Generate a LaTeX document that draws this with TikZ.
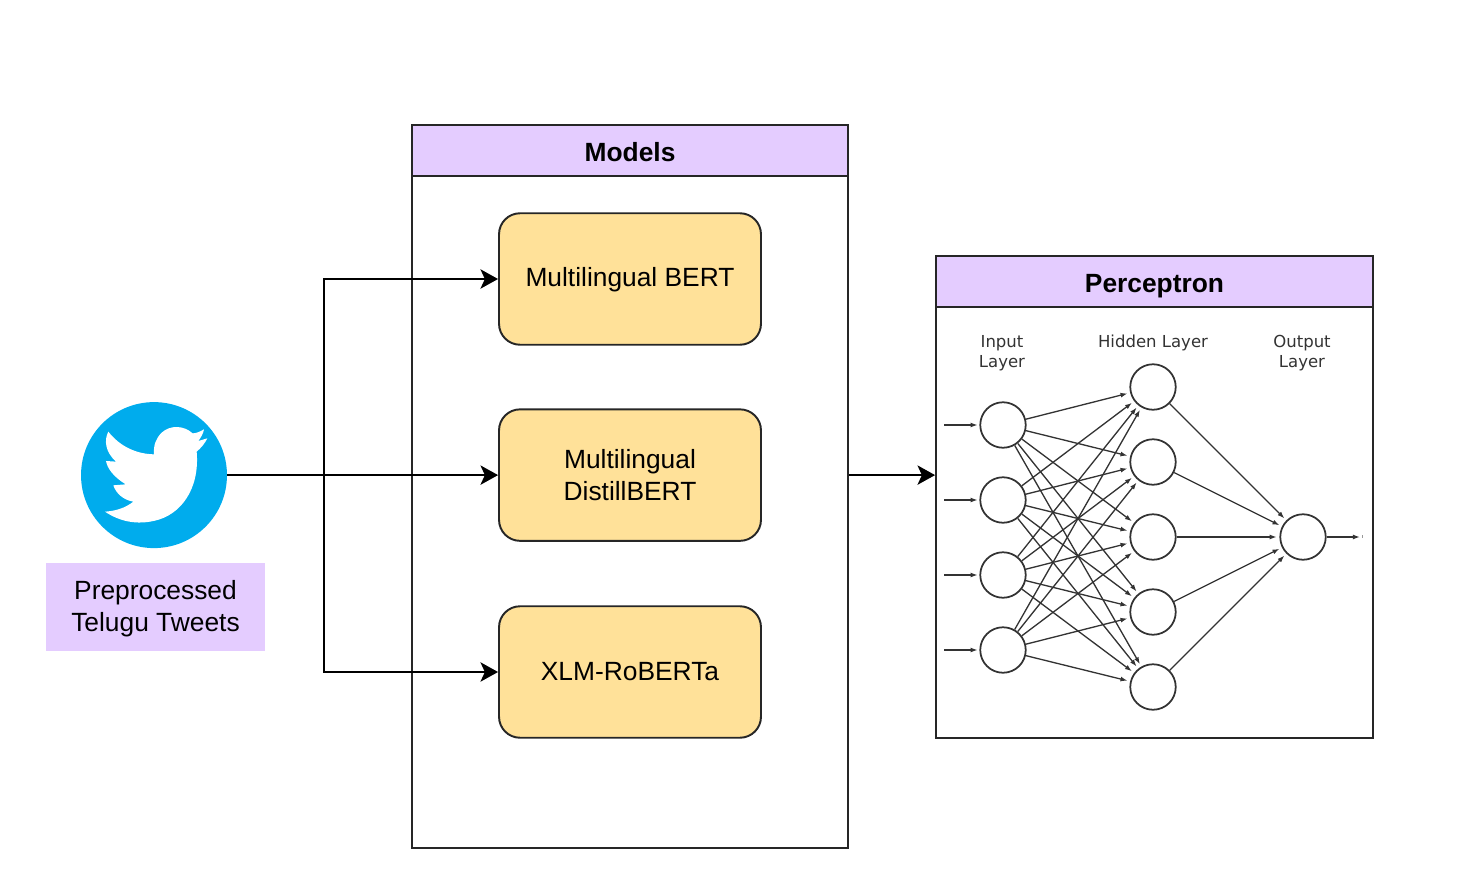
\documentclass[tikz,border=0pt]{standalone}
\usepackage{fontspec}
\setmainfont{Liberation Sans}
\newfontfamily\netfont{DejaVu Sans}
\usetikzlibrary{arrows.meta}
\definecolor{headpurple}{HTML}{E4CCFF}
\definecolor{modelyellow}{HTML}{FFE199}
\definecolor{twitterblue}{HTML}{00ACED}
\definecolor{netgray}{HTML}{333333}
\tikzset{
    flow/.style={line width=1.1pt,-{Stealth[length=10pt,width=11pt,inset=2.5pt]}},
    frame/.style={draw=black!85,line width=1.1pt,minimum width=8.74cm},
    header/.style={frame,fill=headpurple,minimum height=1.01cm,text height=14pt,text depth=1.6pt,font=\fontsize{15}{18}\selectfont\bfseries},
    modelbox/.style={draw=black!85,line width=1.1pt,fill=modelyellow,rounded corners=0.42cm,minimum width=5.24cm,minimum height=2.63cm,align=center,font=\fontsize{15}{18}\selectfont},
    neuron/.style={circle,draw=netgray,line width=1pt,fill=white,minimum size=0.91cm,inner sep=0pt},
    synapse/.style={draw=netgray,line width=0.75pt,shorten >=1.5pt,-{Latex[length=4pt,width=2.8pt]}},
    netlabel/.style={align=center,text=netgray,font=\fontsize{9.4}{11.6}\selectfont\netfont}
}
\begin{document}
\begin{tikzpicture}[x=0.02cm,y=-0.02cm]
        \useasboundingbox (0,0) rectangle (1471,892);
        %Twitter
        \node[circle,fill=twitterblue,minimum size=2.92cm,inner sep=0pt] (tweet) at (154,475.1) {};
        \begin{scope}[shift={(30,380)},x=0.00667cm,y=-0.00667cm]
        \fill[white] (522,148) .. controls (505,158) and (495,160) .. (488,160) .. controls (460,135) and (420,135) .. (395,158)
        .. controls (378,175) and (370,195) .. (372,223) .. controls (320,222) and (270,200) .. (235,155)
        .. controls (222,180) and (225,215) .. (258,245) -- (228,243) .. controls (232,265) and (250,290) .. (287,313)
        -- (250,316) .. controls (258,340) and (280,360) .. (310,365) .. controls (285,385) and (255,393) .. (225,395)
        .. controls (270,425) and (320,435) .. (375,422) .. controls (450,405) and (510,330) .. (500,215)
        .. controls (512,205) and (525,190) .. (532,175) -- (505,183) .. controls (513,172) and (520,160) .. (522,148) -- cycle;
        \end{scope}
        \node[fill=headpurple,minimum width=4.38cm,minimum height=1.76cm,align=center,text depth=1pt,font=\fontsize{15}{18.5}\selectfont] (tweetlabel) at (155.5,607) {Preprocessed\\Telugu Tweets};
        %Models
        \node[frame,minimum height=14.46cm] (modelsbody) at (630,486.5) {};
        \node[header] (modelshead) at (630,150.5) {Models};
        \node[modelbox,text depth=2pt] (mbert) at (630,279) {Multilingual BERT};
        \node[modelbox] (distil) at (630,475.1) {Multilingual\\DistillBERT};
        \node[modelbox] (roberta) at (630,672) {XLM-RoBERTa};
        %Perceptron
        \node[frame,minimum height=9.64cm] (percbody) at (1154.5,497) {};
        \node[header] (perchead) at (1154.5,281.5) {Perceptron};
        \node[netlabel] (inlabel) at (1002,353) {Input\\Layer};
        \node[netlabel] (hidlabel) at (1153,343) {Hidden Layer};
        \node[netlabel] (outlabel) at (1302,353) {Output\\Layer};
        %神经元
        \foreach \y [count=\i] in {425,500,575,650} {
            \node[neuron] (in\i) at (1003,\y) {};
            \coordinate (feed\i) at (944,\y);
            \draw[synapse,shorten >=1pt] (feed\i) -- (in\i);
        }
        \foreach \y [count=\i] in {387,462,537,612,687}
            \node[neuron] (hid\i) at (1153,\y) {};
        \node[neuron] (out) at (1303,537) {};
        %连线
        \foreach \i in {1,...,4}
            \foreach \j in {1,...,5}
                \draw[synapse] (in\i) -- (hid\j);
        \foreach \j in {1,...,5}
            \draw[synapse] (hid\j) -- (out);
        \coordinate (outend) at (1360,537);
        \draw[synapse,shorten >=0pt] (out) -- (outend);
        \draw[netgray!50,line width=0.3pt] (1362.5,535) -- (1362.5,538);
        %箭头
        \coordinate (branch) at (324,475.1);
        \draw[flow] (tweet) -- (distil);
        \draw[flow] (branch) |- (mbert);
        \draw[flow] (branch) |- (roberta);
        \draw[flow] (modelsbody.east |- distil) -- (percbody.west |- distil);
\end{tikzpicture}
\end{document}
